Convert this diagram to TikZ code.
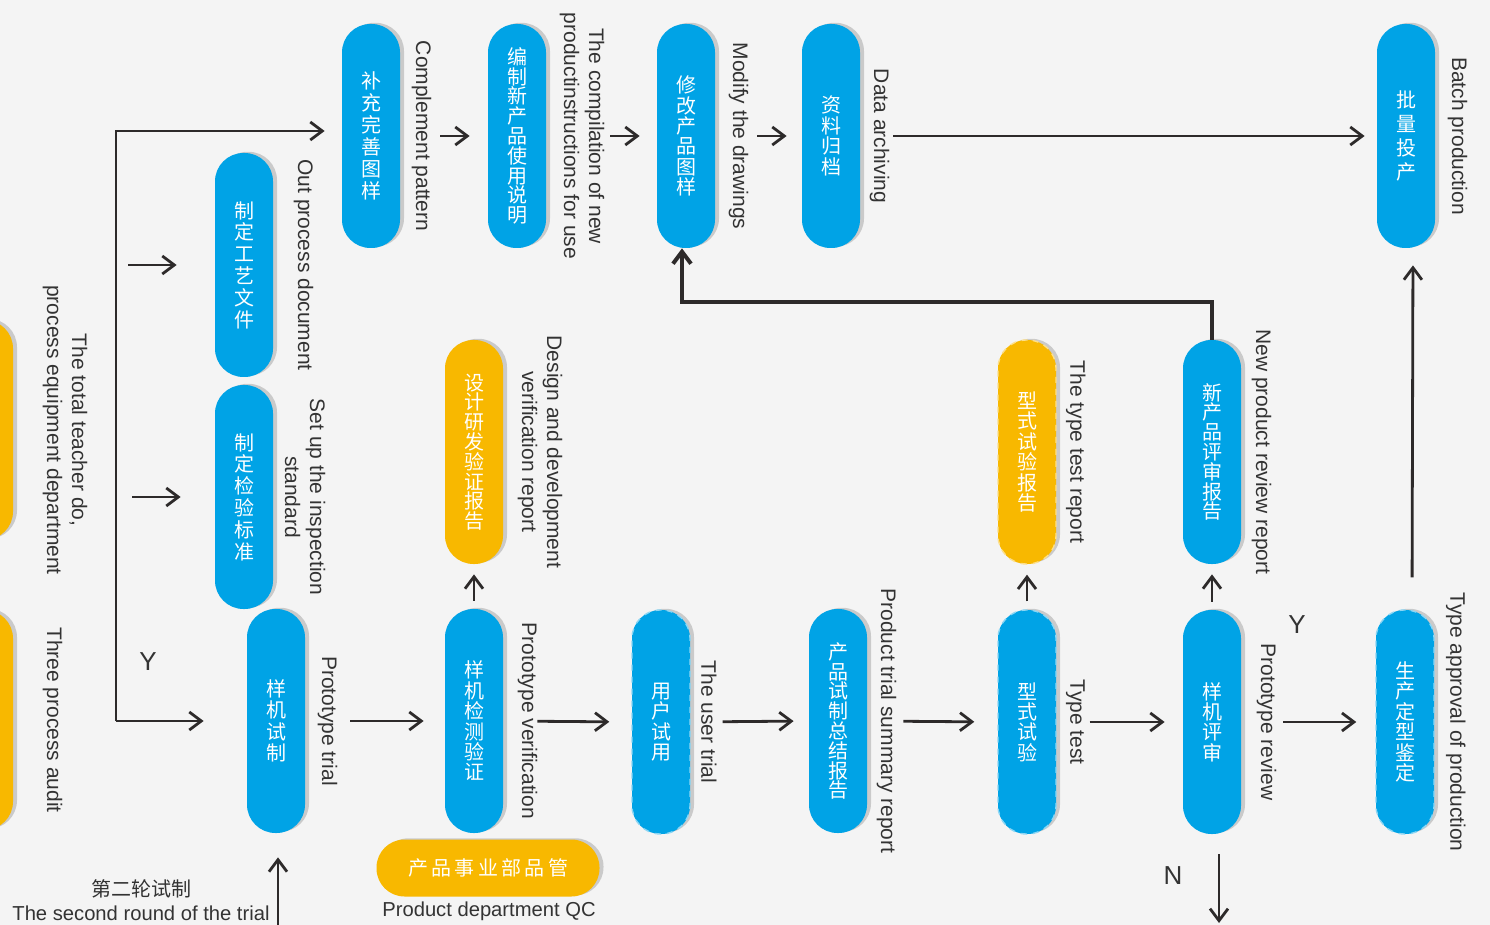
\documentclass[tikz,border=0pt]{standalone}
\usepackage{fontspec}
\setmainfont{Liberation Sans}
\newfontfamily\cjk{Noto Sans CJK SC}
\usepackage{tikz}
\usetikzlibrary{arrows.meta,shadows}
\definecolor{bluec}{HTML}{00A3E6}
\definecolor{orangec}{HTML}{F8B800}
\definecolor{linec}{HTML}{2D2A2A}
\definecolor{textc}{HTML}{333333}
\definecolor{bgc}{HTML}{F4F4F4}

\begin{document}
\begin{tikzpicture}[x=0.5pt,y=-0.5pt,
  pill/.style={rectangle, rounded corners=14.2pt, minimum width=29pt, minimum height=112pt, fill=bluec, text=white, align=center, inner sep=0pt,
    font=\cjk\fontsize{10}{10.2}\selectfont, drop shadow={shadow xshift=2pt, shadow yshift=0.6pt, fill=black!40, opacity=0.45}},
  gold/.style={pill, fill=orangec},
  dashedpill/.style={draw=white!55!bluec, dashed, line width=0.7pt},
  dashedgold/.style={draw=white!55!orangec, dashed, line width=0.7pt},
  lbl/.style={rotate=-90, anchor=south, align=center, text=textc, inner sep=1pt, font=\fontsize{10.5}{12.5}\selectfont},
  note/.style={text=textc, inner sep=1pt, font=\fontsize{10.1}{12}\selectfont},
  yn/.style={text=textc, inner sep=1pt, font=\fontsize{13}{14}\selectfont},
  arr/.style={draw=linec, line width=1.4pt, -{Straight Barb[length=6pt,width=9pt]}}]

\useasboundingbox (0,0) rectangle (1490,925);
\clip (0,0) rectangle (1490,925);
\fill[bgc] (0,0) rectangle (1490,925);

% top row
\node[pill, font=\cjk\fontsize{10}{11}\selectfont] (t1) at (371,136) {补\\充\\完\\善\\图\\样};
\node[pill, font=\cjk\fontsize{10}{9.9}\selectfont] (t2) at (517,136) {编\\制\\新\\产\\品\\使\\用\\说\\明};
\node[pill] (t3) at (686,136) {修\\改\\产\\品\\图\\样};
\node[pill] (t4) at (831,136) {资\\料\\归\\档};
\node[pill, font=\cjk\fontsize{10}{12}\selectfont] (t5) at (1406,136) {批\\量\\投\\产};

% left column
\node[pill, font=\cjk\fontsize{10}{10.9}\selectfont] (m1) at (244,265) {制\\定\\工\\艺\\文\\件};
\node[pill, font=\cjk\fontsize{10}{10.9}\selectfont] (m2) at (244,497) {制\\定\\检\\验\\标\\准};
\node[gold, minimum height=110pt] (l1) at (-16,430) {};
\node[gold, minimum height=110pt] (l2) at (-16,720) {};

% reports
\node[gold, font=\cjk\fontsize{10}{9.9}\selectfont] (r1) at (474,452) {设\\计\\研\\发\\验\\证\\报\\告};
\node[gold, dashedgold] (r2) at (1027,452) {型\\式\\试\\验\\报\\告};
\node[pill, font=\cjk\fontsize{10}{9.9}\selectfont] (r3) at (1212,452) {新\\产\\品\\评\\审\\报\\告};

% bottom row
\node[pill, font=\cjk\fontsize{10}{10.7}\selectfont] (b1) at (276,721) {样\\机\\试\\制};
\node[pill] (b2) at (474,721) {样\\机\\检\\测\\验\\证};
\node[pill, dashedpill] (b3) at (661,722) {用\\户\\试\\用};
\node[pill, font=\cjk\fontsize{10}{9.9}\selectfont] (b4) at (838,721) {产\\品\\试\\制\\总\\结\\报\\告};
\node[pill, dashedpill] (b5) at (1027,722) {型\\式\\试\\验};
\node[pill] (b6) at (1212,722) {样\\机\\评\\审};
\node[pill, dashedpill] (b7) at (1405,722) {生\\产\\定\\型\\鉴\\定};

\node[gold, minimum width=111.5pt, minimum height=28.5pt, rounded corners=14pt, font=\cjk\fontsize{10}{12}\selectfont] (qc) at (488,868) {产\,品\,事\,业\,部\,品\,管};

% english labels
\node[lbl] (t1l) at ([xshift=4.5pt]t1.east) {Complement pattern};
\node[lbl] (t2l) at ([xshift=5.5pt]t2.east) {The compilation of new\\productinstructions for use};
\node[lbl] (t3l) at ([xshift=5.5pt]t3.east) {Modify the drawings};
\node[lbl] (t4l) at ([xshift=3.5pt]t4.east) {Data archiving};
\node[lbl] (t5l) at ([xshift=5pt]t5.east) {Batch production};
\node[lbl] (m1l) at ([xshift=9pt]m1.east) {Out process document};
\node[lbl] (m2l) at ([xshift=4.5pt]m2.east) {Set up the inspection\\standard};
\node[lbl] (l1l) at ([xshift=13.5pt]l1.east) {The total teacher do,\\process equipment department};
\node[lbl] (l2l) at ([xshift=13.5pt]l2.east) {Three process audit};
\node[lbl] (r1l) at ([xshift=6pt]r1.east) {Design and development\\verification report};
\node[lbl] (r2l) at ([xshift=3.5pt]r2.east) {The type test report};
\node[lbl] (r3l) at ([xshift=4pt]r3.east) {New product review report};
\node[lbl] (b1l) at ([xshift=5pt]b1.east) {Prototype trial};
\node[lbl] (b2l) at ([xshift=6pt]b2.east) {Prototype verification};
\node[lbl] (b3l) at ([xshift=4pt]b3.east) {The user trial};
\node[lbl] (b4l) at ([xshift=3.5pt]b4.east) {Product trial summary report};
\node[lbl] (b5l) at ([xshift=3.5pt]b5.east) {Type test};
\node[lbl] (b6l) at ([xshift=6.5pt]b6.east) {Prototype review};
\node[lbl] (b7l) at ([xshift=4.5pt]b7.east) {Type approval of production};

\node[note, font=\cjk\fontsize{10}{12}\selectfont] (rcn) at (141,889) {第二轮试制};
\node[note] (ren) at (141,913) {The second round of the trial};
\node[note] (qcl) at (489,911) {Product department QC};
\node[yn] (y1) at (148,662) {Y};
\node[yn] (y2) at (1297,625) {Y};
\node[yn] (n1) at (1173,876) {N};

\coordinate (br) at (116,721);
\coordinate (in1) at (128,265);
\coordinate (in2) at (132,497);
\coordinate (rnd) at (278,930);
\coordinate (nout) at (1219,923);

% connectors
\draw[arr, shorten <=20pt, shorten >=9pt] (t1.east) -- (t2.west);
\draw[arr, shorten <=32pt, shorten >=8.5pt] (t2.east) -- (t3.west);
\draw[arr, shorten <=21pt, shorten >=7.5pt] (t3.east) -- (t4.west);
\draw[arr, shorten <=16.5pt, shorten >=6pt] (t4.east) -- (t5.west);

\draw[arr, shorten >=8.5pt] (br) |- ([yshift=2.5pt]t1.west);
\draw[arr, shorten >=21.5pt] (br) -- (b1.west);
\draw[arr, shorten >=19pt] (in1) -- (m1.west);
\draw[arr, shorten >=17pt] (in2) -- (m2.west);

\draw[arr, shorten <=22.5pt, shorten >=10.5pt] (b1.east) -- (b2.west);
\draw[arr, shorten <=17pt, shorten >=11pt] (b2.east) -- (b3.west);
\draw[arr, shorten <=16pt, shorten >=7.5pt] (b3.east) -- (b4.west);
\draw[arr, shorten <=18pt, shorten >=11.5pt] (b4.east) -- (b5.west);
\draw[arr, shorten <=16.5pt, shorten >=9pt] (b5.east) -- (b6.west);
\draw[arr, shorten <=21pt, shorten >=9.5pt] (b6.east) -- (b7.west);

\draw[arr, shorten <=4pt, shorten >=5pt] (b2.north) -- (r1.south);
\draw[arr, shorten <=4pt, shorten >=5pt] (b5.north) -- (r2.south);
\draw[arr, shorten <=4pt, shorten >=5pt] (b6.north) -- (r3.south);

\draw[arr, line width=2pt] (r3.north) -- ++(0,-38) -| ([xshift=-2pt]t3.south);
\draw[arr, shorten <=16pt, shorten >=8.5pt] ([xshift=3.5pt]b7.north) -- ([xshift=3.5pt]t5.south);
\draw[arr, shorten <=10pt] ([xshift=3.5pt]b6.south) -- (nout);
\draw[arr, shorten >=12pt] (rnd) -- ([xshift=1pt]b1.south);
\end{tikzpicture}
\end{document}
